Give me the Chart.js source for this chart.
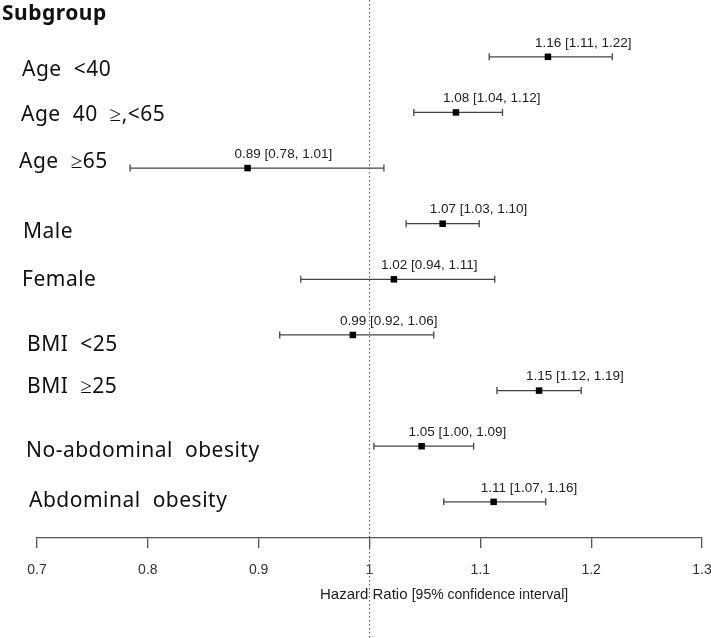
<!DOCTYPE html>
<html>
<head>
<meta charset="utf-8">
<script src="https://cdn.jsdelivr.net/npm/chart.js@4.4.1/dist/chart.umd.min.js"></script>
<style>
  html, body { margin: 0; padding: 0; background: #fff; }
  #wrap { width: 711px; height: 638px; }
</style>
</head>
<body>
<div id="wrap"><canvas id="forest" width="711" height="638"></canvas></div>
<script>
/* Forest plot of hazard ratios by subgroup. */

const subgroups = ["Age <40", "Age 40 ≥,<65", "Age ≥65", "Male", "Female",
  "BMI <25", "BMI ≥25", "No-abdominal obesity", "Abdominal obesity"];
const hazardRatio = [1.161, 1.078, 0.890, 1.066, 1.022, 0.985, 1.153, 1.047, 1.112];
const ciLower     = [1.108, 1.040, 0.784, 1.033, 0.938, 0.919, 1.115, 1.004, 1.067];
const ciUpper     = [1.219, 1.120, 1.013, 1.099, 1.113, 1.058, 1.191, 1.094, 1.159];
const hrText = ["1.16 [1.11, 1.22]", "1.08 [1.04, 1.12]", "0.89 [0.78, 1.01]",
  "1.07 [1.03, 1.10]", "1.02 [0.94, 1.11]", "0.99 [0.92, 1.06]",
  "1.15 [1.12, 1.19]", "1.05 [1.00, 1.09]", "1.11 [1.07, 1.16]"];
const xTicks = [0.7, 0.8, 0.9, 1, 1.1, 1.2, 1.3];

// label placement tweaks (pixels), the original labels are not quite on their rows
const LABEL_X = [22, 21, 19, 23, 22, 27, 27, 26, 29];
const LABEL_DY = [13, 3, -6, 8, 1, 10, -4, 5, -1];
const LINE_COLOR = "#444";

const ciSets = subgroups.map((s, i) => ({
  label: s,
  data: [{ x: ciLower[i], y: i }, { x: ciUpper[i], y: i }],
  showLine: true,
  borderColor: LINE_COLOR,
  borderWidth: 1.3,
  pointStyle: "line",
  rotation: 90,
  pointRadius: 3.5,
  pointBorderColor: LINE_COLOR,
  pointBorderWidth: 1.3,
  order: 2,
}));

const pointSet = {
  label: "HR",
  data: hazardRatio.map((v, i) => ({ x: v, y: i })),
  pointStyle: "rect",
  pointRadius: 4.6,
  backgroundColor: "#000",
  borderColor: "#000",
  borderWidth: 0,
  order: 1,
};

const forestDecor = {
  id: "forestDecor",
  beforeDatasetsDraw(chart) {
    const ctx = chart.ctx;
    const x0 = chart.scales.x.getPixelForValue(1);
    ctx.save();
    ctx.strokeStyle = "#666";
    ctx.lineWidth = 1.2;
    ctx.setLineDash([1.5, 2.5]);
    ctx.beginPath();
    ctx.moveTo(x0, 0);
    ctx.lineTo(x0, chart.height);
    ctx.stroke();
    ctx.restore();
  },
  afterDatasetsDraw(chart) {
    const { ctx, scales: { x, y } } = chart;
    ctx.save();
    ctx.textBaseline = "middle";
    ctx.textAlign = "left";
    ctx.fillStyle = "#111";
    ctx.font = "bold 21px 'Noto Sans'";
    ctx.letterSpacing = "0.5px";
    ctx.fillText("Subgroup", 2, 14);

    ctx.font = "21px 'Noto Sans'";
    ctx.wordSpacing = "6px";
    subgroups.forEach((s, i) => {
      ctx.fillText(s, LABEL_X[i], y.getPixelForValue(i) + LABEL_DY[i]);
    });
    ctx.wordSpacing = "0px";
    ctx.letterSpacing = "0px";

    ctx.fillStyle = "#222";
    ctx.font = "13.5px 'Liberation Sans'";
    hrText.forEach((t, i) => {
      ctx.fillText(t, x.getPixelForValue(hazardRatio[i]) - 13, y.getPixelForValue(i) - 14);
    });

    // axis title: "Hazard Ratio" a bit larger than the bracket part
    ctx.font = "15px 'Liberation Sans'";
    const head = "Hazard Ratio ";
    const tx = 320, ty = 595;
    ctx.fillText(head, tx, ty);
    const w = ctx.measureText(head).width;
    ctx.font = "14px 'Liberation Sans'";
    ctx.fillText("[95% confidence interval]", tx + w, ty);
    ctx.restore();
  }
};

new Chart(document.getElementById("forest"), {
  type: "scatter",
  data: { datasets: [...ciSets, pointSet] },
  options: {
    responsive: false,
    animation: false,
    devicePixelRatio: 1,
    layout: { padding: { top: 29, left: 37, right: 9, bottom: 0 } },
    plugins: { legend: { display: false }, tooltip: { enabled: false } },
    scales: {
      x: {
        type: "linear",
        min: 0.7,
        max: 1.3,
        afterBuildTicks: (scale) => { scale.ticks = xTicks.map(v => ({ value: v })); },
        afterFit: (scale) => { scale.height = 100; scale.paddingLeft = 0; scale.paddingRight = 0; },
        grid: { drawOnChartArea: false, drawTicks: true, tickLength: 10, color: "#555", lineWidth: 1.3 },
        border: { display: true, color: "#555", width: 1.3 },
        ticks: {
          padding: 14,
          color: "#333",
          font: { family: "'Liberation Sans'", size: 14 },
          callback: (v) => String(v),
        },
      },
      y: {
        type: "linear",
        min: -0.5,
        max: 8.65,
        reverse: true,
        display: false,
      },
    },
  },
  plugins: [forestDecor],
});
</script>
</body>
</html>
